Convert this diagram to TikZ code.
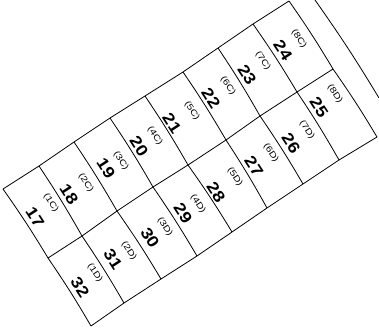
\documentclass[tikz,border=0pt]{standalone}
\usepackage{fontspec}
\setmainfont{Liberation Sans}
\tikzset{
  grid line/.style={draw=black,line width=0.8pt,line join=round},
  numlabel/.style={font=\fontsize{16}{16}\selectfont\bfseries,rotate=-57,xscale=1.15,inner sep=0pt},
  sublabel/.style={font=\fontsize{8.5}{9}\selectfont,rotate=-57,xscale=1.25,inner sep=0pt}
}
\begin{document}
\begin{tikzpicture}[x=1pt,y=-1pt]
\useasboundingbox (0,0) rectangle (379,330);
% grid coordinates
\coordinate (t0) at (3,189);\coordinate (t1) at (39,166);\coordinate (t2) at (74,142);
\coordinate (t3) at (110,118);\coordinate (t4) at (145,96);\coordinate (t5) at (183,72);
\coordinate (t6) at (218,48);\coordinate (t7) at (253,24);\coordinate (t8) at (289,1);
\coordinate (m0) at (48,258);\coordinate (m1) at (82,236);\coordinate (m2) at (117,211);
\coordinate (m3) at (153,187);\coordinate (m4) at (188,165);\coordinate (m5) at (226,140);
\coordinate (m6) at (260,116);\coordinate (m7) at (297,92);\coordinate (m8) at (333,69);
\coordinate (b0) at (91,326);\coordinate (b1) at (124,303);\coordinate (b2) at (161,279);
\coordinate (b3) at (197,256);\coordinate (b4) at (232,232);\coordinate (b5) at (267,208);
\coordinate (b6) at (303,184);\coordinate (b7) at (339,160);\coordinate (b8) at (377,137);
\coordinate (e0) at (315,0);\coordinate (e1) at (379,98);
% outline and rows
\draw[grid line] (t0)--(t1)--(t2)--(t3)--(t4)--(t5)--(t6)--(t7)--(t8);
\draw[grid line] (m0)--(m1)--(m2)--(m3)--(m4)--(m5)--(m6)--(m7)--(m8);
\draw[grid line] (b0)--(b1)--(b2)--(b3)--(b4)--(b5)--(b6)--(b7)--(b8);
% columns
\foreach \i in {0,...,8}{
  \draw[grid line] (t\i) to[bend left=2] (m\i) to[bend left=2] (b\i);
}
\draw[grid line] (e0) to[bend left=2] (e1);
% numbers
\foreach \n/\x/\y in {17/35/217,18/69/194,19/106/168,20/139/146,21/172/123,22/211/98,23/247/75,24/283/50,
  25/319/107,26/291/143,27/254/166,28/216/192,29/183/213,30/150/238,31/113/259,32/80/287}{
  \node[numlabel] (n\n) at (\x,\y) {\n};
}
% sub labels
\foreach \n/\x/\y in {1C/51/203,2C/86/183,3C/121/161,4C/155/136,5C/192/111,6C/228/86,7C/263/61,8C/299/39,
  8D/335/94,7D/307/130,6D/271/153,5D/235/177,4D/198/204,3D/165/227,2D/129/251,1D/95/273}{
  \node[sublabel] (s\n) at (\x,\y) {(\n)};
}
\end{tikzpicture}
\end{document}
